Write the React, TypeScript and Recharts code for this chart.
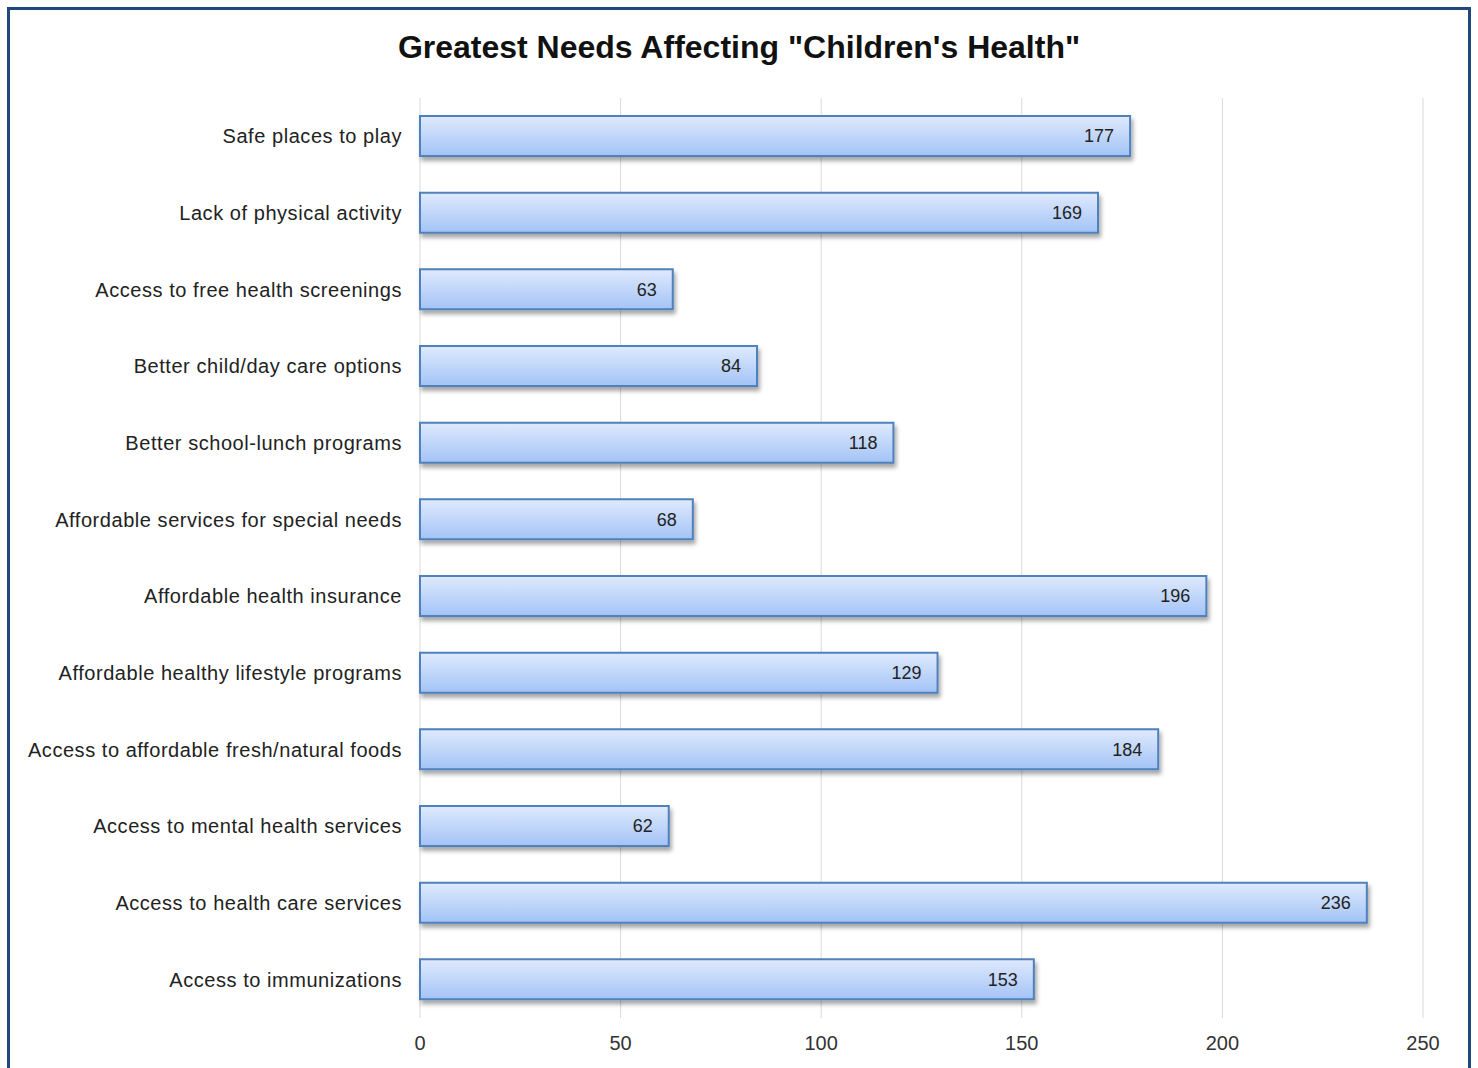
import { Bar, BarChart, CartesianGrid, LabelList, XAxis, YAxis } from "recharts"

const CATEGORIES = [
  "Safe places to play",
  "Lack of physical activity",
  "Access to free health screenings",
  "Better child/day care options",
  "Better school-lunch programs",
  "Affordable services for special needs",
  "Affordable health insurance",
  "Affordable healthy lifestyle programs",
  "Access to affordable fresh/natural foods",
  "Access to mental health services",
  "Access to health care services",
  "Access to immunizations",
]

const RESPONSES = [177, 169, 63, 84, 118, 68, 196, 129, 184, 62, 236, 153]

const X_TICKS = [0, 50, 100, 150, 200, 250]

const FONT = "Arial, 'Liberation Sans', sans-serif"

const data = CATEGORIES.map((label, i) => ({ label, value: RESPONSES[i] }))

export default function App() {
  return (
    <div
      style={{
        position: "absolute",
        left: 0,
        top: 0,
        width: 1478,
        height: 1068,
        overflow: "hidden",
        background: "#fff",
        fontFamily: FONT,
      }}
    >
      <div
        style={{
          position: "absolute",
          left: 7,
          top: 7,
          width: 1458,
          height: 1100,
          border: "3px solid #1f497d",
        }}
      />
      <div
        style={{
          position: "absolute",
          left: 0,
          width: 1478,
          top: 28,
          textAlign: "center",
          fontSize: 32,
          lineHeight: "38px",
          fontWeight: "bold",
          color: "#111",
        }}
      >
        Greatest Needs Affecting "Children's Health"
      </div>
      <div style={{ position: "absolute", left: 0, top: 0 }}>
        <BarChart
          width={1478}
          height={1068}
          data={data}
          layout="vertical"
          margin={{ top: 98, right: 55, bottom: 20, left: 0 }}
        >
          <defs>
            <linearGradient id="barFill" x1="0" y1="0" x2="0" y2="1">
              <stop offset="0%" stopColor="#dfeafd" />
              <stop offset="100%" stopColor="#a3c3f6" />
            </linearGradient>
            <filter id="barShadow" x="-5%" y="-20%" width="110%" height="160%">
              <feDropShadow dx="2" dy="4" stdDeviation="2" floodColor="#000" floodOpacity="0.35" />
            </filter>
          </defs>
          <CartesianGrid horizontal={false} stroke="#d9d9d9" />
          <XAxis
            type="number"
            domain={[0, 250]}
            ticks={X_TICKS}
            axisLine={false}
            tickLine={false}
            tickSize={0}
            tickMargin={18}
            height={30}
            tick={{ fill: "#333", fontSize: 20, fontFamily: FONT }}
          />
          <YAxis
            type="category"
            dataKey="label"
            width={420}
            axisLine={false}
            tickLine={false}
            tickSize={0}
            tickMargin={18}
            interval={0}
            tick={{ fill: "#222", fontSize: 20, fontFamily: FONT, letterSpacing: 0.55 }}
          />
          <Bar
            dataKey="value"
            barSize={40}
            fill="url(#barFill)"
            stroke="#4f81bd"
            strokeWidth={2}
            filter="url(#barShadow)"
            isAnimationActive={false}
          >
            <LabelList
              dataKey="value"
              position="insideRight"
              offset={16}
              style={{ fill: "#222", fontSize: 18, fontFamily: FONT }}
            />
          </Bar>
        </BarChart>
      </div>
    </div>
  )
}
